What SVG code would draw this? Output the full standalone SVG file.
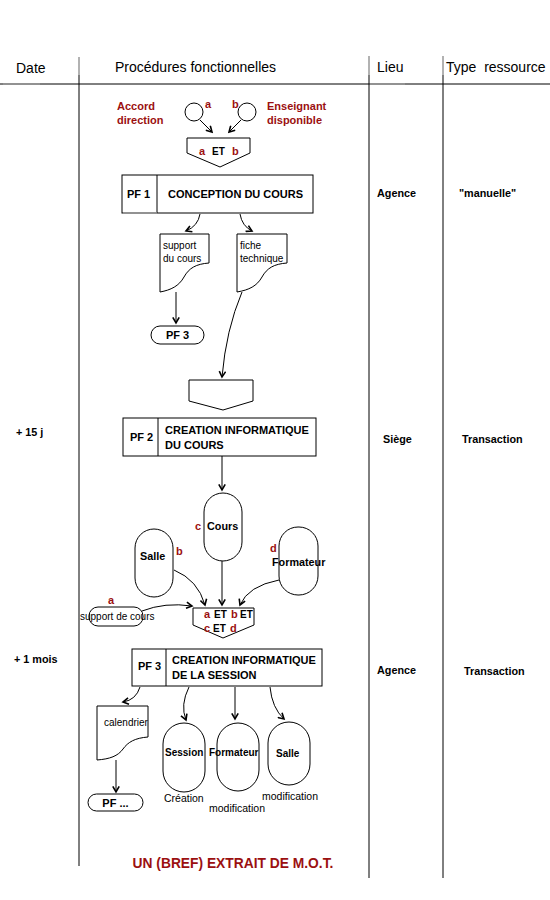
<svg xmlns="http://www.w3.org/2000/svg" width="550" height="900" viewBox="0 0 550 900">
<defs>
<marker id="arr" viewBox="0 0 10 10" refX="8" refY="5" markerWidth="8" markerHeight="8" markerUnits="userSpaceOnUse" orient="auto">
<path d="M1,1 L8,5 L1,9" fill="none" stroke="#000" stroke-width="2"/>
</marker>
</defs>
<style>
text{font-family:"Liberation Sans",Arial,sans-serif;fill:#000}
.h{font-size:14px}
.b{font-size:10px;font-weight:bold}
.t{font-size:11px;font-weight:bold}
.s{font-size:10.8px;font-weight:bold}
.r{fill:#9b1010;font-weight:bold;font-size:11px}
.n{font-size:10px}
.m{font-size:10.5px}
.box{fill:#fff;stroke:#000;stroke-width:1}
.c{fill:none;stroke:#000;stroke-width:1;marker-end:url(#arr)}
.g{stroke:#999;stroke-width:1.5}
.k{stroke:#000;stroke-width:1}
</style>
<rect width="550" height="900" fill="#fff"/>
<g id="grid">
<line class="k" x1="0" y1="84" x2="550" y2="84"/>
<line class="g" x1="3" y1="84" x2="40" y2="84"/>
<line class="g" x1="369" y1="84" x2="405" y2="84"/>
<line class="k" x1="79" y1="75" x2="79" y2="866"/>
<line class="g" x1="79" y1="57" x2="79" y2="75"/>
<line class="k" x1="369" y1="75" x2="369" y2="878"/>
<line class="g" x1="369" y1="56" x2="369" y2="75"/>
<line class="k" x1="443" y1="75" x2="443" y2="878"/>
<line class="g" x1="443" y1="56" x2="443" y2="75"/>
<text class="h" x="16" y="73">Date</text>
<text class="h" x="115" y="72">Procédures fonctionnelles</text>
<text class="h" x="377" y="72">Lieu</text>
<text class="h" x="446" y="72" xml:space="preserve">Type  ressource</text>
</g>
<g id="side">
<text class="s" x="377" y="197">Agence</text>
<text class="s" x="459" y="197">"manuelle"</text>
<text class="s" x="16" y="436">+ 15 j</text>
<text class="s" x="383" y="443">Siège</text>
<text class="s" x="462" y="443">Transaction</text>
<text class="s" x="14" y="663">+ 1 mois</text>
<text class="s" x="377" y="674">Agence</text>
<text class="s" x="464" y="675">Transaction</text>
</g>
<g id="event-a">
<circle class="box" cx="194" cy="112" r="9"/>
<text class="r" x="205" y="108">a</text>
<text class="r" x="117" y="110">Accord</text>
<text class="r" x="117" y="124">direction</text>
</g>
<g id="event-b">
<circle class="box" cx="247" cy="112" r="9"/>
<text class="r" x="232" y="108">b</text>
<text class="r" x="267" y="110">Enseignant</text>
<text class="r" x="267" y="124">disponible</text>
</g>
<g id="merge1">
<polygon class="box" points="187,138 250,138 250,153 220,167 187,153"/>
<text class="r" x="199" y="155">a</text>
<text class="b" x="212" y="155">ET</text>
<text class="r" x="232" y="155">b</text>
</g>
<g id="pf1">
<rect class="box" x="122" y="175" width="191" height="38"/>
<line class="k" x1="157" y1="175" x2="157" y2="213"/>
<line class="g" x1="123" y1="213" x2="157" y2="213"/>
<text class="t" x="127" y="198">PF 1</text>
<text class="t" x="168" y="198">CONCEPTION DU COURS</text>
</g>
<g id="doc-support">
<path class="box" d="M160,234 H209 V263 C196,264 189,268 184,277 C179,286 171,290 160,292 Z"/>
<text class="n" x="163" y="249">support</text>
<text class="n" x="163" y="262">du cours</text>
</g>
<g id="doc-fiche">
<path class="box" d="M237,234 H287 V263 C274,264 267,268 262,277 C257,286 249,290 237,292 Z"/>
<text class="n" x="240" y="249">fiche</text>
<text class="n" x="240" y="262">technique</text>
</g>
<g id="pf3-ref">
<rect class="box" x="151" y="326" width="53" height="18" rx="9"/>
<text class="t" x="177.5" y="339" text-anchor="middle">PF 3</text>
</g>
<g id="merge2">
<polygon class="box" points="189,380 253,380 253,401 223,410 189,401"/>
</g>
<g id="pf2">
<rect class="box" x="123" y="418" width="193" height="38"/>
<line class="k" x1="158" y1="418" x2="158" y2="456"/>
<text class="t" x="130" y="441">PF 2</text>
<text class="t" x="165" y="434">CREATION INFORMATIQUE</text>
<text class="t" x="165" y="449">DU COURS</text>
</g>
<g id="cours">
<rect class="box" x="204" y="493" width="38" height="68" rx="19"/>
<text class="s" x="207" y="530">Cours</text>
<text class="r" x="195" y="530">c</text>
</g>
<g id="salle">
<rect class="box" x="135" y="529" width="38" height="68" rx="19"/>
<text class="s" x="140" y="560">Salle</text>
<text class="r" x="176" y="555">b</text>
</g>
<g id="formateur">
<rect class="box" x="279" y="527" width="39" height="68" rx="19"/>
<text class="s" x="272" y="566">Formateur</text>
<text class="r" x="270" y="552">d</text>
</g>
<g id="support-cours">
<rect class="box" x="89" y="607" width="54" height="19" rx="9"/>
<text class="n" x="80" y="619.5">support de cours</text>
<text class="r" x="108" y="604">a</text>
</g>
<g id="merge3">
<polygon class="box" points="193,608 254,608 254,625 223,638 193,625"/>
<text class="r" x="204" y="618">a</text>
<text class="b" x="214" y="618">ET</text>
<text class="r" x="231" y="618">b</text>
<text class="b" x="240" y="618">ET</text>
<text class="r" x="204" y="632">c</text>
<text class="b" x="213" y="632">ET</text>
<text class="r" x="230" y="632">d</text>
</g>
<g id="pf3">
<rect class="box" x="132" y="649" width="190" height="37"/>
<line class="k" x1="166" y1="649" x2="166" y2="686"/>
<text class="t" x="138" y="670">PF 3</text>
<text class="t" x="172" y="664">CREATION INFORMATIQUE</text>
<text class="t" x="172" y="679">DE LA SESSION</text>
</g>
<g id="doc-calendrier">
<path class="box" d="M97,706 H148 V737 C135,738 128,742 123,749 C118,756 110,759 97,760 Z"/>
<text class="n" x="104" y="726">calendrier</text>
</g>
<g id="pf-next">
<rect class="box" x="88" y="794" width="55" height="17" rx="8.5"/>
<text class="t" x="115.5" y="807" text-anchor="middle">PF ...</text>
</g>
<g id="session">
<rect class="box" x="163" y="723" width="42" height="69" rx="21"/>
<text class="b" x="165" y="756">Session</text>
<text class="m" x="164" y="802">Création</text>
</g>
<g id="formateur2">
<rect class="box" x="217" y="723" width="42" height="68" rx="21"/>
<text class="b" x="209" y="756">Formateur</text>
<text class="m" x="209" y="812">modification</text>
</g>
<g id="salle2">
<rect class="box" x="268" y="722" width="42" height="63" rx="21"/>
<text class="b" x="276" y="757">Salle</text>
<text class="m" x="262" y="800">modification</text>
</g>
<g id="connectors">
<path class="c" d="M200,120 L212,132"/>
<path class="c" d="M241,120 L229,132"/>
<path class="c" d="M200,214 Q198,226 186,231"/>
<path class="c" d="M240,214 Q242,226 252,231"/>
<path class="c" d="M176,292 V323"/>
<path class="c" d="M242,292 Q226,330 222,377"/>
<path class="c" d="M222,456 V490"/>
<path class="c" d="M174,570 Q198,580 205,605"/>
<path class="c" d="M222,561 V605"/>
<path class="c" d="M279,580 Q248,586 240,605"/>
<path class="c" d="M142,611 Q165,602 192,606"/>
<path class="c" d="M140,687 Q136,700 123,702"/>
<path class="c" d="M116,760 V792"/>
<path class="c" d="M189,687 Q180,705 186,720"/>
<path class="c" d="M235,687 V719"/>
<path class="c" d="M270,687 Q272,708 284,719"/>
</g>
<text x="233" y="868" text-anchor="middle" style="font-size:13.8px;font-weight:bold;fill:#9b1010">UN (BREF) EXTRAIT DE M.O.T.</text>
</svg>
